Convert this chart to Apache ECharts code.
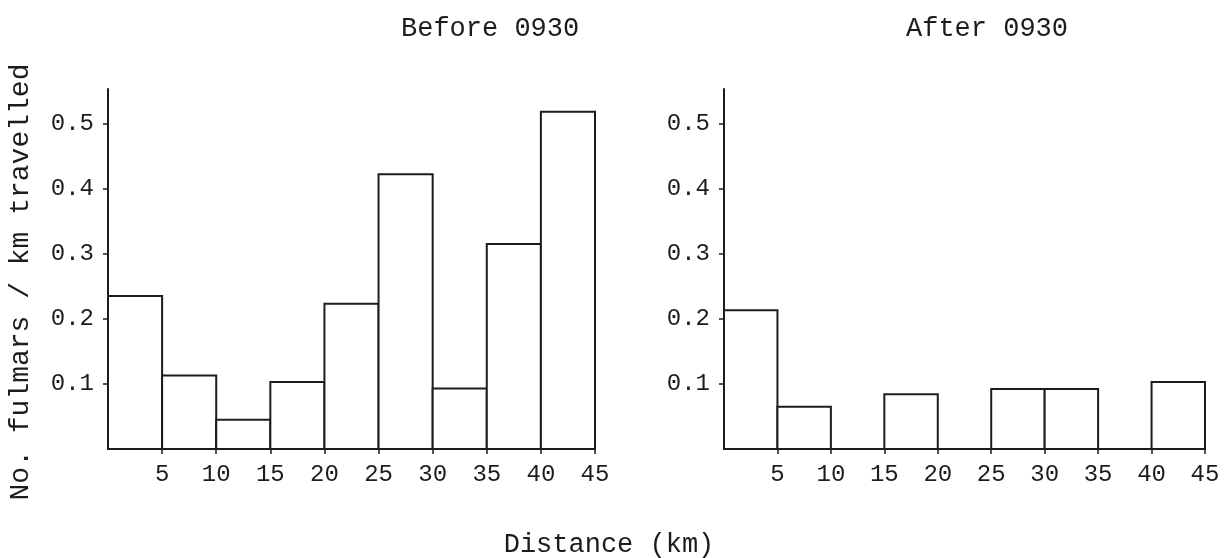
<!DOCTYPE html>
<html>
<head>
<meta charset="utf-8">
<title>Fulmars per km travelled</title>
<script src="https://cdn.jsdelivr.net/npm/echarts@6/dist/echarts.min.js"></script>
<style>
  html, body { margin: 0; padding: 0; background: #ffffff; }
  #chart { width: 1228px; height: 558px; }
</style>
</head>
<body>
<div id="chart"></div>
<script>
// Distance bins (km): each bin runs from its start to start + binWidth
const binStarts = [0, 5, 10, 15, 20, 25, 30, 35, 40];
const binWidth = 5;

// Fulmars counted per km travelled in each bin
const beforeValues = [0.235, 0.113, 0.045, 0.103, 0.223, 0.422, 0.093, 0.315, 0.518];
const afterValues  = [0.213, 0.065, 0, 0.084, 0, 0.092, 0.092, 0, 0.103];

// Tick labels
const xTickValues = [5, 10, 15, 20, 25, 30, 35, 40, 45];
const yTickValues = [0.1, 0.2, 0.3, 0.4, 0.5];

const panelTitles = ['Before 0930', 'After 0930'];
const xName = 'Distance (km)';
const yName = 'No. fulmars / km travelled';

const FONT = '"Liberation Mono", "DejaVu Sans Mono", monospace';
const INK = '#1c1c1c';

function binData(values) {
  return binStarts.map((s, i) => [s, s + binWidth, values[i]]);
}

function renderBin(params, api) {
  const v = api.value(2);
  if (!(v > 0)) return null;
  const topLeft = api.coord([api.value(0), v]);
  const bottomRight = api.coord([api.value(1), 0]);
  return {
    type: 'rect',
    shape: {
      x: topLeft[0],
      y: topLeft[1],
      width: bottomRight[0] - topLeft[0],
      height: bottomRight[1] - topLeft[1]
    },
    style: { fill: '#ffffff', stroke: INK, lineWidth: 2 }
  };
}

function xAxisFor(gridIndex) {
  return {
    type: 'value', gridIndex, min: 0, max: 45, interval: 5,
    axisLine: { show: true, onZero: false, lineStyle: { color: INK, width: 2 } },
    axisTick: { show: true, length: 5, customValues: xTickValues, lineStyle: { color: INK, width: 1.5 } },
    axisLabel: { customValues: xTickValues, margin: 14, fontFamily: FONT, fontSize: 24, color: INK },
    splitLine: { show: false }
  };
}

function yAxisFor(gridIndex) {
  return {
    type: 'value', gridIndex, min: 0, max: 0.553, interval: 0.1,
    axisLine: { show: true, lineStyle: { color: INK, width: 2 } },
    axisTick: { show: true, length: 5, customValues: yTickValues, lineStyle: { color: INK, width: 1.5 } },
    axisLabel: { customValues: yTickValues, margin: 14, fontFamily: FONT, fontSize: 24, color: INK,
                 formatter: v => v.toFixed(1) },
    splitLine: { show: false }
  };
}

const chart = echarts.init(document.getElementById('chart'), null, { renderer: 'canvas' });

chart.setOption({
  backgroundColor: '#ffffff',
  animation: false,
  title: [
    { text: panelTitles[0], left: 396, top: 10,
      textStyle: { fontFamily: FONT, fontSize: 27, fontWeight: 'normal', color: INK } },
    { text: panelTitles[1], left: 901, top: 10,
      textStyle: { fontFamily: FONT, fontSize: 27, fontWeight: 'normal', color: INK } }
  ],
  grid: [
    { left: 108, right: 633, top: 89, bottom: 109, containLabel: false },
    { left: 724, right: 23, top: 89, bottom: 109, containLabel: false }
  ],
  xAxis: [xAxisFor(0), xAxisFor(1)],
  yAxis: [yAxisFor(0), yAxisFor(1)],
  series: [
    { type: 'custom', name: panelTitles[0], xAxisIndex: 0, yAxisIndex: 0,
      renderItem: renderBin, data: binData(beforeValues), encode: { x: [0, 1], y: 2 } },
    { type: 'custom', name: panelTitles[1], xAxisIndex: 1, yAxisIndex: 1,
      renderItem: renderBin, data: binData(afterValues), encode: { x: [0, 1], y: 2 } }
  ],
  graphic: [
    { type: 'text', x: 21, y: 282, rotation: Math.PI / 2,
      style: { text: yName, fontFamily: FONT, fontSize: 28, fill: INK, align: 'center', verticalAlign: 'middle' } },
    { type: 'text', x: 609, y: 545,
      style: { text: xName, fontFamily: FONT, fontSize: 27, fill: INK, align: 'center', verticalAlign: 'middle' } }
  ]
});
</script>
</body>
</html>
